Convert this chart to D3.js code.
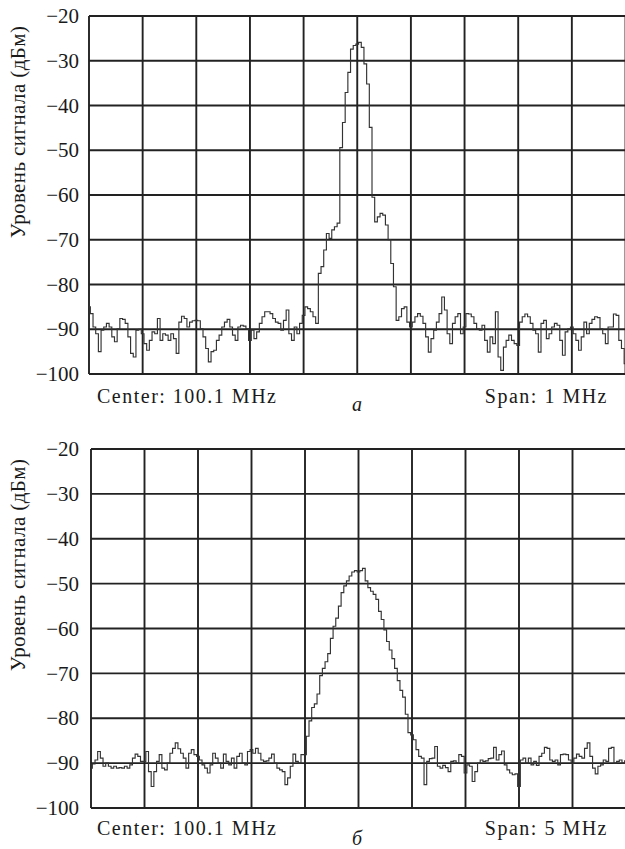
<!DOCTYPE html>
<html><head><meta charset="utf-8">
<script src="https://cdn.jsdelivr.net/npm/d3@7"></script>
<style>
body{margin:0;background:#fff}
svg{display:block}
text{font-family:"Liberation Serif","DejaVu Serif","Times New Roman",serif;fill:#1a1a1a}
</style>
</head><body>
<svg id="chart" width="625" height="849"></svg>
<script>
// ---- data ----
const yTicks = [-20, -30, -40, -50, -60, -70, -80, -90, -100];
const yTitle = "Уровень сигнала (дБм)";
const centerFreq = 100.1; // MHz
const spans = [1, 5];     // MHz
const captions = ["а", "б"];

// panel а: span 1 MHz, 201 trace points (dBm)
const topLevels = [
 -85, -86.5, -89.5, -91, -95, -90.2, -89.5, -88.7, -89.5, -91.7, -92.8, -89.9, -87.6, -87.8, -88.7, -91.7, -95.4, -96.2, -90.2, -90,
 -91, -93.2, -94.7, -92.5, -90.6, -91, -87.6, -92.5, -91, -91.3, -92.5, -91, -92.1, -95.4, -88.4, -87.1, -87.6, -89.5, -88.4, -88.1,
 -88, -88.1, -89.9, -91.7, -94.3, -97.3, -95, -94.7, -92.5, -91.3, -89.5, -88.4, -87.8, -89.5, -91.3, -92.5, -89.5, -89.1, -89.3, -89.9,
 -92.5, -90.2, -92.1, -90.6, -88.7, -87.2, -86.1, -86.1, -86.5, -87.6, -88.4, -88.7, -90.2, -88, -85.7, -91, -92.5, -89.5, -91, -88.7,
 -86.9, -85, -85.4, -86.1, -87.2, -88.7, -77.5, -76, -72.3, -68.6, -69.7, -67.8, -67.1, -66.3, -49.4, -43.8, -37.1, -32.6, -27.4, -26.6,
 -26.3, -25.9, -27, -30.7, -35.2, -44.9, -60.5, -66, -64.9, -64.1, -64.5, -66.7, -70, -75.3, -80.5, -88, -87.2, -85.4, -85, -88.4,
 -89.5, -88.4, -87.2, -86.5, -87.1, -88.7, -91.7, -95.1, -92.1, -90.2, -88.4, -86.5, -82.8, -85.7, -91, -93.2, -88.7, -87.2, -86.5, -91,
 -89.5, -86.5, -86.6, -87.2, -88.7, -89.9, -90.2, -89.1, -92.5, -95.1, -91.7, -93.2, -86.1, -96.2, -99.2, -94, -92.5, -91.3, -92.5, -93.2,
 -93.6, -88.4, -87.2, -86.6, -87.2, -88.7, -90.2, -91, -95.1, -88.7, -88, -92.1, -91, -89.5, -88.7, -89.1, -92.5, -95.8, -90.6, -89.9,
 -89.5, -91, -92.5, -94.7, -91.7, -88.4, -91, -88.7, -87.8, -87.2, -87.4, -89.9, -91, -93.2, -89.5, -89.5, -86.6, -86.9, -92.5, -94.3, -97.7
];

// panel б: span 5 MHz, 201 trace points (dBm)
const bottomLevels = [
 -91.1, -90.2, -89.3, -87.4, -88.9, -90.7, -90, -90.7, -91.1, -90.7, -91.1, -91, -91.1, -90.7, -91.1, -90.4, -88.9, -88, -88.5, -89.6,
 -89.6, -87.4, -91.9, -95.2, -91.9, -89.6, -88.1, -91.1, -91.5, -90, -87.8, -86.7, -85.5, -86.8, -87.8, -88.9, -91.1, -87.8, -87, -88.1,
 -88.5, -89.3, -90.4, -91.1, -92.2, -90.4, -87.8, -88.9, -90, -91.1, -88, -89.6, -90.4, -88.9, -91.1, -88.5, -87.8, -90, -90.4, -87.4,
 -87, -87.8, -86.7, -87.8, -89.3, -89.6, -89.5, -88.9, -88, -90, -91.1, -91.5, -91.9, -94.8, -93.3, -90.7, -88, -89.6, -90, -88.1,
 -88.1, -84, -80.6, -77.6, -76.8, -74.6, -70.5, -68.9, -67.4, -65.6, -62.2, -59.5, -57.7, -55, -52, -50.5, -49.4, -48.3, -47.4, -47.1,
 -47.4, -47.1, -46.6, -49.4, -50.9, -51.7, -52.4, -53.5, -56.2, -58, -60.3, -62.9, -64.8, -66.7, -68.9, -71.6, -73.8, -75.3, -79.1, -83.2,
 -83.7, -84.8, -87, -88.5, -88.9, -94.8, -89.6, -89, -88.9, -86.3, -90.7, -91.1, -90.5, -91, -91.9, -89.6, -89.5, -90, -88.1, -88.5,
 -92.2, -90.4, -90.7, -94.1, -91.9, -90, -89.3, -89.6, -89.5, -89, -88.9, -86.5, -89.3, -88.1, -87.3, -90.4, -91.5, -92.2, -92.6, -92.4,
 -95.2, -89.3, -88.9, -90, -88.9, -90.4, -89.6, -90.5, -88.5, -87.8, -86.5, -86.7, -89.3, -89.6, -89.3, -90.4, -88.1, -88, -88.1, -89.3,
 -90, -88.9, -88, -88.5, -88.9, -86.7, -85.5, -88.5, -91.1, -92.4, -90.7, -90.4, -89.3, -89.6, -86.7, -86.5, -90, -89.6, -89.3, -90, -89.5
];

// ---- layout ----
const panels = [
  {levels: topLevels, span: spans[0], caption: captions[0],
   left: 89, right: 625.5, top: 16, bottom: 374, titleY: 132, labelY: 403, capY: 411},
  {levels: bottomLevels, span: spans[1], caption: captions[1],
   left: 91, right: 626, top: 449, bottom: 808, titleY: 565, labelY: 835, capY: 845}
];

const svg = d3.select("#chart");
const gridColor = "#222";
const fmt = v => (v < 0 ? "\u2212" : "") + Math.abs(v);

panels.forEach(p => {
  const f0 = centerFreq - p.span / 2, f1 = centerFreq + p.span / 2;
  const n = p.levels.length - 1;
  const x = d3.scaleLinear().domain([f0, f1]).range([p.left, p.right]);
  const y = d3.scaleLinear().domain([-100, -20]).range([p.bottom, p.top]);
  const g = svg.append("g");

  // vertical grid: 10 divisions
  const xDivs = d3.range(11).map(i => f0 + i * p.span / 10);
  g.selectAll("line.v").data(xDivs).join("line")
    .attr("x1", d => x(d)).attr("x2", d => x(d))
    .attr("y1", p.top).attr("y2", p.bottom)
    .attr("stroke", gridColor).attr("stroke-width", 1.9);
  // horizontal grid
  g.selectAll("line.h").data(yTicks).join("line")
    .attr("x1", p.left).attr("x2", p.right)
    .attr("y1", d => y(d)).attr("y2", d => y(d))
    .attr("stroke", gridColor).attr("stroke-width", 1.9);

  // y axis labels
  const yAxis = d3.axisLeft(y).tickValues(yTicks).tickFormat(fmt).tickSize(0).tickPadding(p.left - 79);
  const ax = g.append("g").attr("transform", `translate(${p.left},0)`).call(yAxis);
  ax.select(".domain").remove();
  ax.selectAll("text").attr("font-size", 21).attr("fill", "#1a1a1a");

  // trace
  const line = d3.line()
    .x((d, i) => x(f0 + i * p.span / n))
    .y(d => y(d))
    .curve(d3.curveStep);
  g.append("path").datum(p.levels)
    .attr("fill", "none").attr("stroke", "#333").attr("stroke-width", 1.15)
    .attr("d", line);

  // y title
  g.append("text")
    .attr("transform", `translate(25,${p.titleY}) rotate(-90)`)
    .attr("text-anchor", "middle").attr("font-size", 21).attr("letter-spacing", 0.4)
    .text(yTitle);

  // bottom labels
  g.append("text").attr("x", 97).attr("y", p.labelY)
    .attr("font-size", 20).attr("letter-spacing", 1.5)
    .text(`Center: ${centerFreq} MHz`);
  g.append("text").attr("x", 608).attr("y", p.labelY)
    .attr("text-anchor", "end").attr("font-size", 20).attr("letter-spacing", 1.5)
    .text(`Span: ${p.span} MHz`);
  g.append("text").attr("x", 357).attr("y", p.capY)
    .attr("text-anchor", "middle").attr("font-size", 20).attr("font-style", "italic")
    .text(p.caption);
});
</script>
</body></html>
